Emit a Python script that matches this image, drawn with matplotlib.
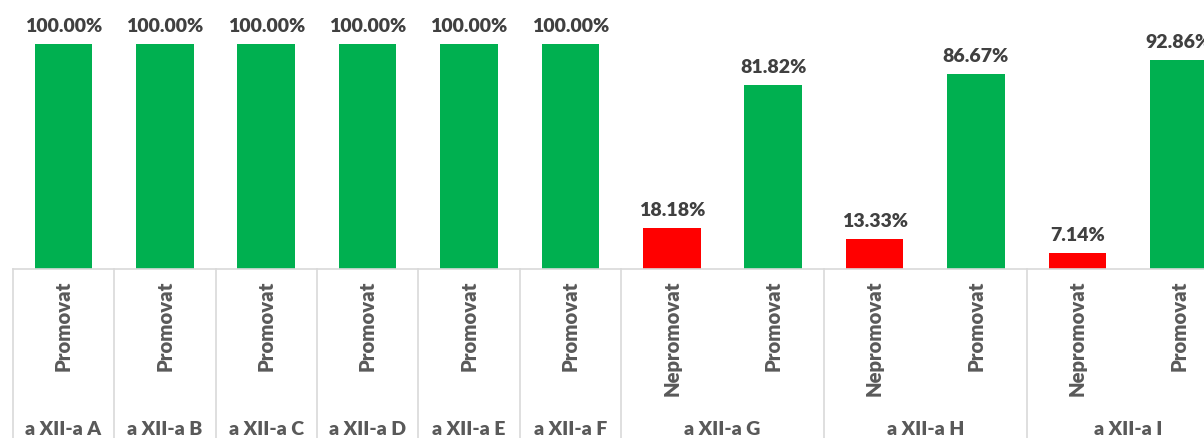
import matplotlib
matplotlib.use("Agg")
import matplotlib.pyplot as plt

# Promotion rate per class, split by status
class_names = ["a XII-a A", "a XII-a B", "a XII-a C", "a XII-a D", "a XII-a E",
               "a XII-a F", "a XII-a G", "a XII-a H", "a XII-a I"]
bar_class = ["a XII-a A", "a XII-a B", "a XII-a C", "a XII-a D", "a XII-a E",
             "a XII-a F", "a XII-a G", "a XII-a G", "a XII-a H", "a XII-a H",
             "a XII-a I", "a XII-a I"]
bar_status = ["Promovat", "Promovat", "Promovat", "Promovat", "Promovat",
              "Promovat", "Nepromovat", "Promovat", "Nepromovat", "Promovat",
              "Nepromovat", "Promovat"]
bar_values = [100.00, 100.00, 100.00, 100.00, 100.00, 100.00,
              18.18, 81.82, 13.33, 86.67, 7.14, 92.86]

GREEN = "#00B050"
RED = "#FF0000"
LABEL_DARK = "#404040"
LABEL_GREY = "#595959"
GRID = "#D9D9D9"
FONT = "Lato"

W, H = 1204, 438
fig = plt.figure(figsize=(W / 100, H / 100), dpi=100)

# axes box in pixels: left edge, baseline, width of 12 slots, 100% height
left_px, base_px, slot_px, full_px = 12.7, 269, 101.4, 225
n = len(bar_values)
ax = fig.add_axes([left_px / W, (H - base_px) / H, n * slot_px / W, full_px / H])
ax.set_xlim(-0.5, n - 0.5)
ax.set_ylim(0, 100)
ax.axis("off")

x = list(range(n))
colors = [GREEN if s == "Promovat" else RED for s in bar_status]
ax.bar(x, bar_values, width=0.57, color=colors, edgecolor="none")

for xi, v in zip(x, bar_values):
    ax.annotate(f"{v:.2f}%", (xi, v), xytext=(0, 8.6), textcoords="offset points",
                ha="center", va="baseline", fontsize=14, fontweight="heavy",
                color=LABEL_DARK, family=FONT, annotation_clip=False)

tr = ax.get_xaxis_transform()
bottom_y = -(H - base_px) / full_px - 0.05

# baseline
ax.plot([-0.5, n - 0.5], [0, 0], color=GRID, lw=1.2, transform=tr, clip_on=False)

# status labels, rotated
for xi, s in zip(x, bar_status):
    ax.text(xi, -(281 - base_px) / full_px, s, transform=tr, rotation=90,
            ha="center", va="top", fontsize=14.6, fontweight="heavy",
            color=LABEL_GREY, family=FONT)

# class group labels and dividers
for name in class_names:
    idx = [i for i, c in enumerate(bar_class) if c == name]
    lo, hi = idx[0] - 0.5, idx[-1] + 0.5
    ax.plot([lo, lo], [0, bottom_y], color=GRID, lw=1.2, transform=tr, clip_on=False)
    ax.text((lo + hi) / 2, -(429 - base_px) / full_px, name, transform=tr,
            ha="center", va="center", fontsize=14, fontweight="heavy",
            color=LABEL_GREY, family=FONT)
ax.plot([n - 0.5, n - 0.5], [0, bottom_y], color=GRID, lw=1.2, transform=tr, clip_on=False)

fig.savefig("out.png", dpi=100)
